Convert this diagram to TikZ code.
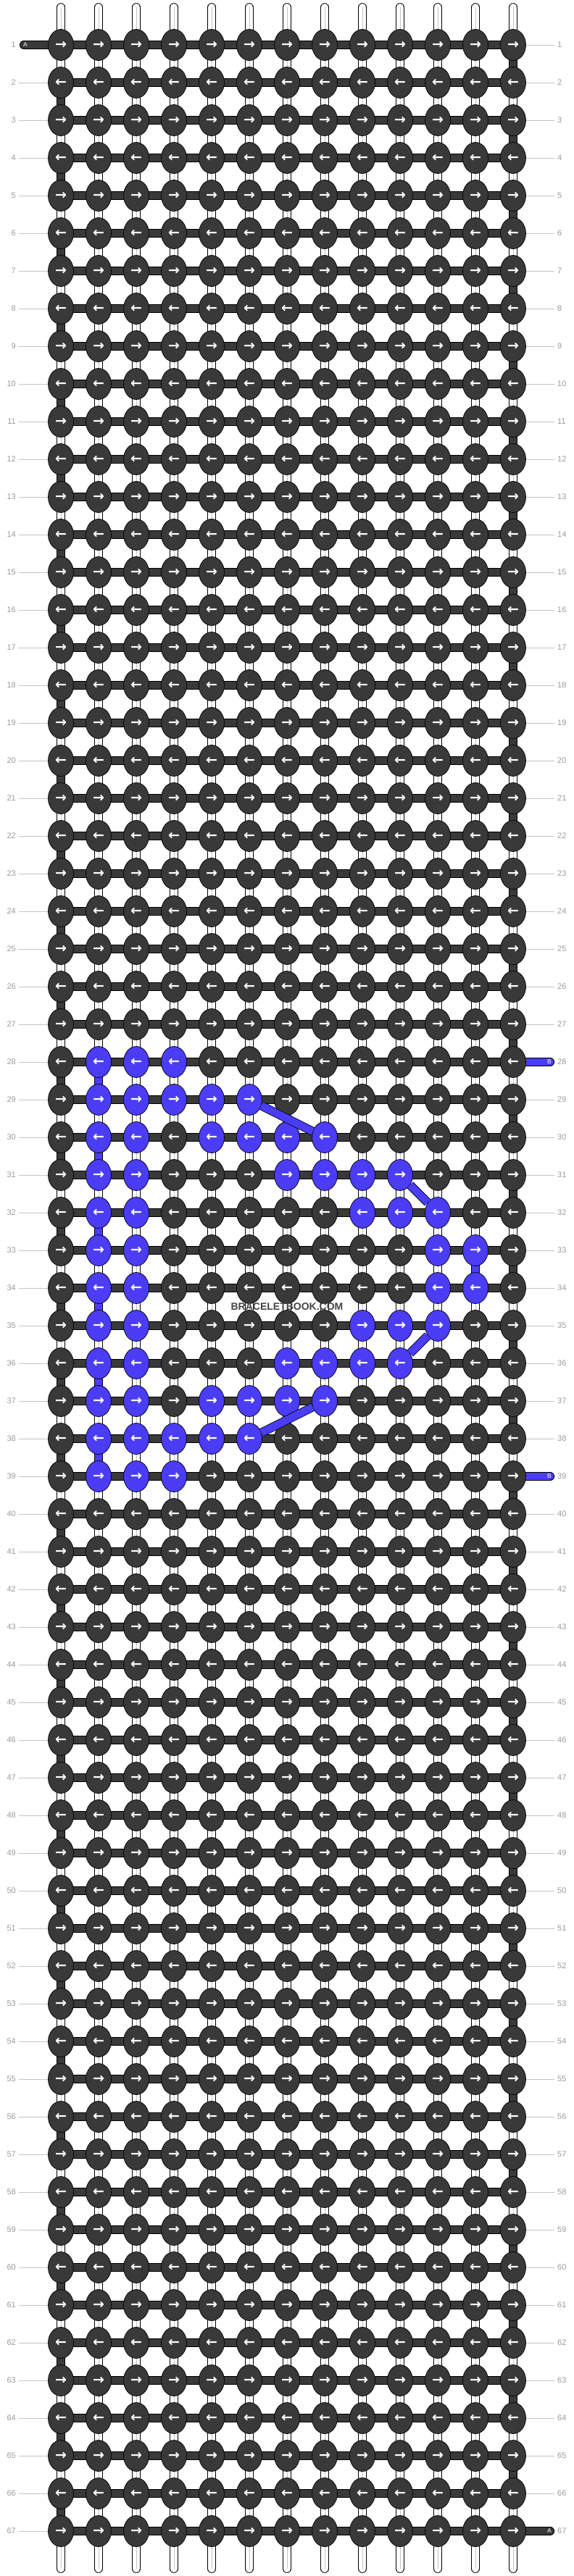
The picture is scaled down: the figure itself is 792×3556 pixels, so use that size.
\documentclass[tikz,border=0pt]{standalone}
\usepackage{fontspec}
\setmainfont{Liberation Sans}
\newfontfamily\arrowfont{DejaVu Sans}
\usetikzlibrary{shapes.geometric}
\usetikzlibrary{positioning}
\definecolor{knotdark}{HTML}{393939}
\definecolor{knotblue}{HTML}{4A3DF5}
\definecolor{rowgray}{HTML}{9A9A9A}
\definecolor{linegray}{HTML}{C4C4C4}
\definecolor{markgray}{HTML}{444444}
\pgfdeclarelayer{tubes}
\pgfdeclarelayer{bars}
\pgfsetlayers{tubes,bars,main}

\begin{document}
\begin{tikzpicture}[x=1pt,y=-1pt]
    \tikzset{
      knot/.style={ellipse, draw=black, line width=0.7pt, minimum width=35pt, minimum height=43pt,
        inner sep=0pt, text=white, font=\arrowfont\bfseries\fontsize{19}{19}\selectfont},
      tube/.style={draw=black, line width=0.8pt, double=white, double distance=10pt, line cap=round},
      tubecore/.style={draw=linegray, line width=0.8pt},
      darkbar/.style={draw=black, line width=0.8pt, double=knotdark, double distance=10.5pt},
      bluebar/.style={draw=black, line width=0.8pt, double=knotblue, double distance=10.5pt},
      rownum/.style={text=rowgray, font=\fontsize{11}{11}\selectfont, inner xsep=4pt, inner ysep=0pt},
      rowline/.style={draw=linegray, line width=0.8pt},
      endlabel/.style={text=white, font=\fontsize{8.5}{8.5}\selectfont, inner sep=0pt},
    }
    \useasboundingbox (0,0) rectangle (792,3556);

    \foreach \r/\lo/\hi in {28/4/4, 29/4/6, 30/5/8, 31/7/10, 32/9/11, 33/11/12,
                            34/11/12, 35/9/11, 36/7/10, 37/5/8, 38/4/6, 39/4/4} {
      \expandafter\xdef\csname blo\r\endcsname{\lo}
      \expandafter\xdef\csname bhi\r\endcsname{\hi}
    }

    \foreach \r in {1,...,67} {
      \foreach \c in {1,...,13} {
        \def\kfill{knotdark}
        \ifcsname blo\r\endcsname
          \ifnum\c>1 \ifnum\c<4 \def\kfill{knotblue}\fi\fi
          \ifnum\c<\csname blo\r\endcsname\relax
          \else\ifnum\c>\csname bhi\r\endcsname\relax
          \else\def\kfill{knotblue}\fi\fi
        \fi
        \ifodd\r\relax \def\karrow{→}\else \def\karrow{←}\fi
        \node[knot, fill=\kfill] (k-\r-\c) at (32+52*\c, 10+52*\r) {\karrow};
      }
    }

    \foreach \r in {1,...,67} {
      \node[rownum, anchor=east] (ln-\r) at (26, 10+52*\r) {\r};
      \node[rownum, anchor=west] (rn-\r) at (765, 10+52*\r) {\r};
      \ifnum\r>1 \draw[rowline] (ln-\r) -- (k-\r-1);\fi
      \ifnum\r=28 \else\ifnum\r=39 \else\ifnum\r=67 \else
        \draw[rowline] (k-\r-13) -- (rn-\r);
      \fi\fi\fi
    }

    \begin{pgfonlayer}{tubes}
      \foreach \c in {1,...,13} {
        \coordinate (top-\c) at (32+52*\c, 10);
        \coordinate (bot-\c) at (32+52*\c, 3546);
        \draw[tube] (top-\c) -- (bot-\c);
        \draw[tubecore] (top-\c) -- (bot-\c);
      }
    \end{pgfonlayer}

    \begin{pgfonlayer}{bars}
      \foreach \r in {1,...,67}
        \draw[darkbar] (k-\r-1.center) -- (k-\r-13.center);
      \foreach \r in {1,3,...,65} {
        \pgfmathtruncatemacro\rn{\r+1}
        \draw[darkbar] (k-\r-13.center) -- (k-\rn-13.center);
      }
      \foreach \r in {2,4,...,66} {
        \pgfmathtruncatemacro\rn{\r+1}
        \draw[darkbar] (k-\r-1.center) -- (k-\rn-1.center);
      }
      \foreach \r in {28,30,...,38} {
        \pgfmathtruncatemacro\rn{\r+1}
        \draw[bluebar] (k-\r-2.center) -- (k-\rn-2.center);
      }
      \draw[bluebar] (k-33-12.center) -- (k-34-12.center);

      \coordinate (a-in) at (33, 62);
      \coordinate (a-out) at (759, 3494);
      \coordinate (b-in) at (759, 1466);
      \coordinate (b-out) at (759, 2038);
      \draw[darkbar, line cap=round] (a-in) -- (k-1-1.center);
      \draw[darkbar, line cap=round] (k-67-13.center) -- (a-out);
      \draw[bluebar, line cap=round] (k-28-13.center) -- (b-in);
      \draw[bluebar, line cap=round] (k-39-13.center) -- (b-out);
    \end{pgfonlayer}

    \node[endlabel] (la-in) at (35, 62) {A};
    \node[endlabel] (la-out) at (758, 3494) {A};
    \node[endlabel] (lb-in) at (758, 1466) {B};
    \node[endlabel] (lb-out) at (758, 2038) {B};

    \draw[bluebar] (k-29-6) -- (k-30-8);
    \draw[bluebar] (k-31-10) -- (k-32-11);
    \draw[bluebar] (k-35-11) -- (k-36-10);
    \draw[bluebar] (k-37-8) -- (k-38-6);

    \node[text=markgray, font=\bfseries\fontsize{14}{14}\selectfont, inner sep=0pt] (mark) at (396, 1804) {BRACELETBOOK.COM};
\end{tikzpicture}
\end{document}
